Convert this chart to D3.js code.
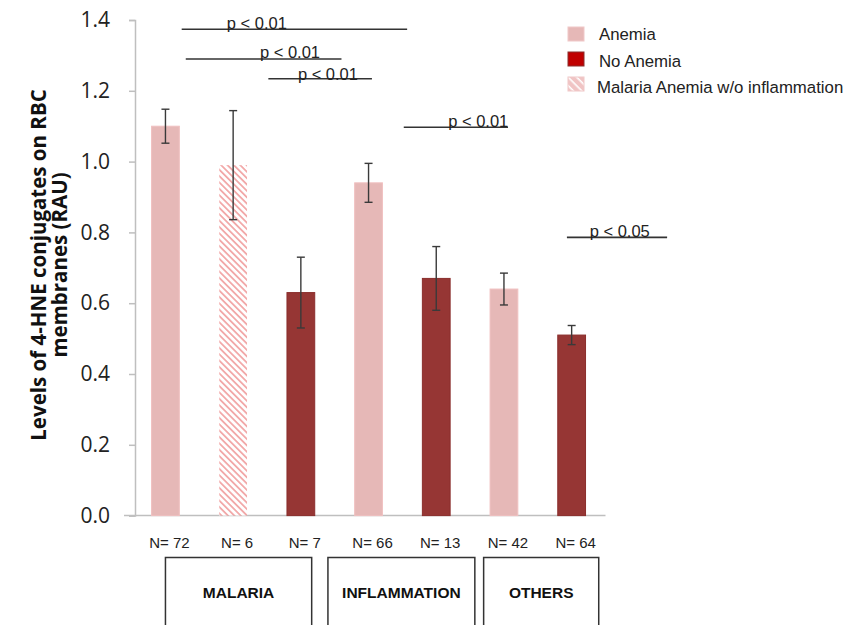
<!DOCTYPE html>
<html>
<head>
<meta charset="utf-8">
<script src="https://cdn.jsdelivr.net/npm/d3@7"></script>
<style>
  html, body { margin: 0; padding: 0; background: #fff; }
  svg { display: block; font-family: "Liberation Sans", Arial, sans-serif; }
</style>
</head>
<body>
<svg id="chart" width="850" height="625"></svg>
<script>
// ---- data ----
const categories = ["N= 72", "N= 6", "N= 7", "N= 66", "N= 13", "N= 42", "N= 64"];
const means      = [1.10, 0.99, 0.63, 0.94, 0.67, 0.64, 0.51];
const errors     = [0.048, 0.154, 0.10, 0.055, 0.09, 0.045, 0.027];
const barKind    = ["anemia", "hatched", "noAnemia", "anemia", "noAnemia", "anemia", "noAnemia"];
const yTicks     = [0, 0.2, 0.4, 0.6, 0.8, 1.0, 1.2, 1.4];
const groupNames = ["MALARIA", "INFLAMMATION", "OTHERS"];
const legendLabels = ["Anemia", "No Anemia", "Malaria Anemia w/o inflammation"];
const legendKinds  = ["anemia", "noAnemia", "hatchedLegend"];
const sigLabels  = ["p < 0.01", "p < 0.01", "p < 0.01", "p < 0.01", "p < 0.05"];
const sigLevels  = [1.374, 1.29, 1.234, 1.097, 0.786];

// ---- layout ----
const svg = d3.select("#chart");
const x = d3.scaleBand().domain(d3.range(categories.length))
  .range([131.6, 605.5]).paddingInner(0.59).paddingOuter(0.295);
const y = d3.scaleLinear().domain([0, 1.4]).range([515.6, 20]);
const step = x.step();
const cx = i => x(i) + x.bandwidth() / 2;          // bar centre
const pos = f => cx(0) + f * step;                  // fractional band position

// bracket spans (in band units) and label centres
const sigSpans = [[0.24, 3.57], [0.30, 2.60], [1.52, 3.05], [3.52, 5.06], [5.93, 7.41]];
const sigText  = [1.35, 1.84, 2.40, 4.62, 6.71];
// group boxes (in band units)
const groupSpans = [[0, 2.16], [2.40, 4.57], [4.70, 6.40]];

const colors = { anemia: "#e6b8b7", noAnemia: "#963634" };

// ---- patterns ----
const defs = svg.append("defs");
const pat = defs.append("pattern").attr("id", "hatch")
  .attr("patternUnits", "userSpaceOnUse").attr("width", 4.5).attr("height", 4.5)
  .attr("patternTransform", "rotate(45)");
pat.append("rect").attr("width", 4.5).attr("height", 4.5).attr("fill", "#fff");
pat.append("rect").attr("width", 4.5).attr("height", 1.8).attr("fill", "#f2a9a9");

const patL = defs.append("pattern").attr("id", "hatchLegend")
  .attr("patternUnits", "userSpaceOnUse").attr("width", 6).attr("height", 6)
  .attr("patternTransform", "rotate(45)");
patL.append("rect").attr("width", 6).attr("height", 6).attr("fill", "#f0c4c4");
patL.append("rect").attr("width", 6).attr("height", 1.6).attr("fill", "#fff");

const fillFor = k => k === "hatched" ? "url(#hatch)" : k === "hatchedLegend" ? "url(#hatchLegend)" : colors[k];

// ---- y axis ----
const yAxis = d3.axisLeft(y).tickValues(yTicks).tickFormat(d3.format(".1f")).tickSize(6).tickPadding(19);
const gy = svg.append("g").attr("transform", "translate(135,0)").call(yAxis);
gy.select(".domain").attr("stroke", "#bfbfbf").attr("stroke-width", 1.5);
gy.selectAll(".tick line").attr("stroke", "#bfbfbf").attr("stroke-width", 1.5);
gy.selectAll(".tick text").attr("font-size", 21).attr("fill", "#222")
  .attr("font-family", "'Open Sans', 'Liberation Sans', sans-serif");

// baseline
svg.append("line").attr("x1", 124).attr("x2", 605.5)
  .attr("y1", y(0)).attr("y2", y(0)).attr("stroke", "#bfbfbf").attr("stroke-width", 1.5);

// y title
const title = svg.append("text").attr("transform", "translate(0,265) rotate(-90)")
  .attr("text-anchor", "middle").attr("font-weight", "bold").attr("font-size", 20.5)
  .attr("fill", "#111").attr("font-family", "'Open Sans', 'Liberation Sans', sans-serif");
title.append("tspan").attr("x", 0).attr("y", 46).text("Levels of 4-HNE conjugates on RBC");
title.append("tspan").attr("x", 0).attr("y", 67).text("membranes (RAU)");

// ---- bars ----
svg.append("g").selectAll("rect").data(means).join("rect")
  .attr("x", (d, i) => x(i)).attr("width", x.bandwidth())
  .attr("y", d => y(d)).attr("height", d => y(0) - y(d))
  .attr("fill", (d, i) => fillFor(barKind[i]))
  .attr("stroke", (d, i) => barKind[i] === "noAnemia" ? "#8a2e2c" : barKind[i] === "anemia" ? "#f0c0c0" : "none")
  .attr("stroke-width", 1);

// ---- error bars ----
const eg = svg.append("g").attr("stroke", "#3a3a3a").attr("stroke-width", 1.4);
means.forEach((m, i) => {
  const c = cx(i), top = y(m + errors[i]), bot = y(m - errors[i]);
  eg.append("line").attr("x1", c).attr("x2", c).attr("y1", top).attr("y2", bot);
  eg.append("line").attr("x1", c - 4).attr("x2", c + 4).attr("y1", top).attr("y2", top);
  eg.append("line").attr("x1", c - 4).attr("x2", c + 4).attr("y1", bot).attr("y2", bot);
});

// ---- significance brackets ----
const sg = svg.append("g");
sigLabels.forEach((lab, i) => {
  const ly = y(sigLevels[i]);
  sg.append("line").attr("x1", pos(sigSpans[i][0])).attr("x2", pos(sigSpans[i][1]))
    .attr("y1", ly).attr("y2", ly).attr("stroke", "#333").attr("stroke-width", 1.6);
  sg.append("text").attr("x", pos(sigText[i])).attr("y", ly + (i === 2 ? 1.5 : -0.5))
    .attr("text-anchor", "middle").attr("font-size", 16.5).attr("fill", "#222").text(lab);
});

// ---- N labels ----
svg.append("g").selectAll("text").data(categories).join("text")
  .attr("x", (d, i) => cx(i) + 4).attr("y", 548)
  .attr("text-anchor", "middle").attr("font-size", 15).attr("fill", "#222")
  .text(d => d);

// ---- group boxes ----
const gg = svg.append("g");
groupNames.forEach((name, i) => {
  const x0 = pos(groupSpans[i][0]), x1 = pos(groupSpans[i][1]);
  gg.append("rect").attr("x", x0).attr("y", 557.5).attr("width", x1 - x0).attr("height", 80)
    .attr("fill", "none").attr("stroke", "#333").attr("stroke-width", 1.5);
  gg.append("text").attr("x", (x0 + x1) / 2).attr("y", 598)
    .attr("text-anchor", "middle").attr("font-size", 15.5).attr("font-weight", "bold")
    .attr("fill", "#111").text(name);
});

// ---- legend ----
const lg = svg.append("g");
legendLabels.forEach((lab, i) => {
  const ty = 27 + i * 25;
  lg.append("rect").attr("x", 568).attr("y", ty).attr("width", 16).attr("height", 14)
    .attr("fill", legendKinds[i] === "noAnemia" ? "#c00000" : fillFor(legendKinds[i]))
    .attr("stroke", legendKinds[i] === "noAnemia" ? "#8a2e2c" : "#f0c8c8").attr("stroke-width", 1);
  lg.append("text").attr("x", i === 2 ? 597 : 599).attr("y", ty + 13 + i * 1.5)
    .attr("font-size", 16.8).attr("fill", "#222").text(lab);
});
</script>
</body>
</html>
